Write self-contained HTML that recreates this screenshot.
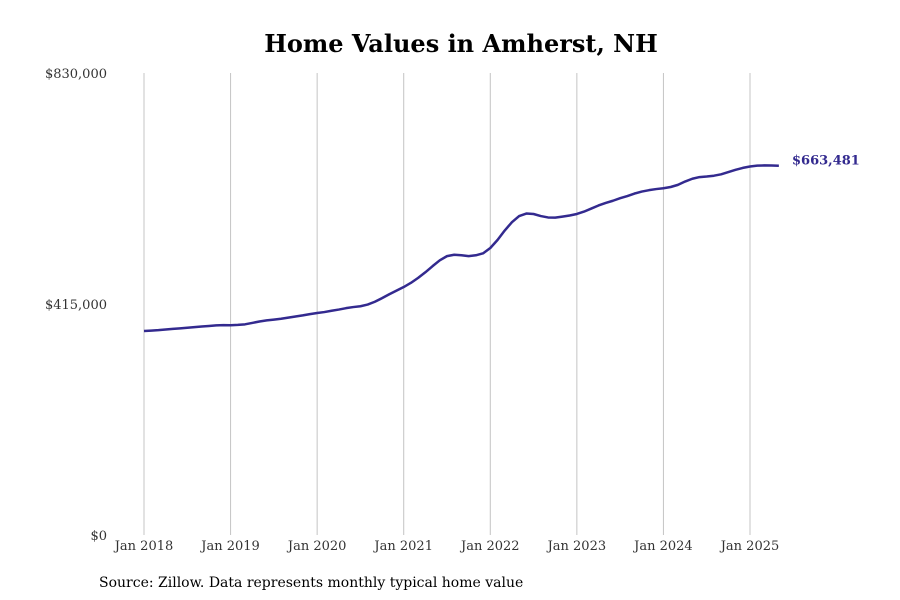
<!DOCTYPE html>
<html><head><meta charset="utf-8"><style>
body{margin:0;background:#fff;}
svg{display:block;font-family:"DejaVu Serif","Liberation Serif",serif;}
</style></head><body>
<svg id="chart" width="900" height="600">
<text x="461" y="52" text-anchor="middle" font-size="24" font-weight="bold">Home Values in Amherst, NH</text>
<g id="grid"></g><g id="yaxis"></g><g id="xaxis"></g><g id="series"></g>
<text x="99" y="587" font-size="14">Source: Zillow. Data represents monthly typical home value</text>
</svg>
<script>
const xTickLabels=["Jan 2018","Jan 2019","Jan 2020","Jan 2021","Jan 2022","Jan 2023","Jan 2024","Jan 2025"];
const yTickValues=[0,415000,830000];
const yTickLabels=["$0","$415,000","$830,000"];
const values=[366500,367100,368000,369200,370400,371300,372300,373400,374600,375500,376500,377000,
376800,377500,378500,381000,383500,385500,387000,388500,390500,392500,394500,396800,
398800,400500,402800,405000,407500,409500,411000,414000,419000,425500,432500,439000,
445500,453000,462000,472000,483000,493500,501000,503500,502500,501000,502500,506000,
515600,530000,547000,562000,573000,577500,576700,573000,570500,570200,572000,574000,
576700,581000,586500,592000,596500,600500,605000,609000,613500,617000,619500,621500,
623000,625200,629000,635000,640000,643000,644000,645500,648000,652000,656000,659500,
662000,663600,664000,663800,663481];
const lastLabel="$663,481";
const NS="http://www.w3.org/2000/svg";
const x=m=>144+m*(606/84);
const y=v=>535-v/830000*462;
function mk(tag,attrs,parent){const e=document.createElementNS(NS,tag);for(const k in attrs)e.setAttribute(k,attrs[k]);parent.appendChild(e);return e;}
const grid=document.getElementById('grid'),xa=document.getElementById('xaxis'),ya=document.getElementById('yaxis'),ser=document.getElementById('series');
xTickLabels.forEach((t,i)=>{
 const l=mk('line',{x1:x(i*12),x2:x(i*12),y1:73,y2:535,stroke:'#c4c4c4','stroke-width':1},grid);
 
 
 const tx=mk('text',{x:x(i*12),y:550,'text-anchor':'middle','font-size':13,fill:'#333'},xa);
 tx.textContent=t;
 
 
});
yTickValues.forEach((v,i)=>{
 const tx=mk('text',{x:107,y:y(v)+5,'text-anchor':'end','font-size':13,fill:'#333'},ya);
 tx.textContent=yTickLabels[i];
 
 
});
const d=values.map((v,i)=>(i?'L':'M')+x(i).toFixed(2)+','+y(v).toFixed(2)).join('');
const p=mk('path',{d:d,fill:'none',stroke:'#332a8f','stroke-width':2.5,'stroke-linejoin':'round'},ser);


const lt=mk('text',{x:792,y:y(values[values.length-1])-1,'font-size':13,'font-weight':'bold',fill:'#332a8f'},ser);
lt.textContent=lastLabel;


</script>
</body></html>
